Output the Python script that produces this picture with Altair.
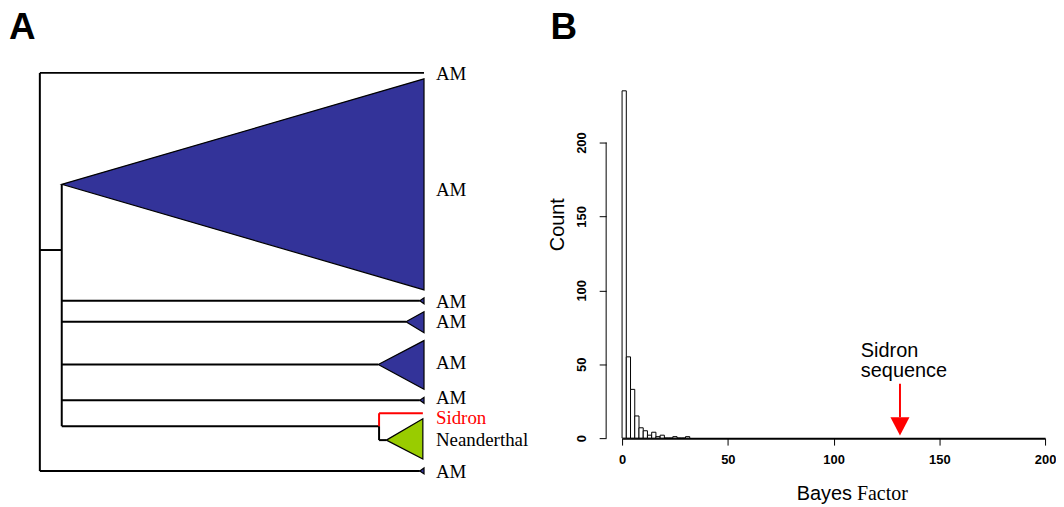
import altair as alt
import pandas as pd

# ---------------- Panel A: tree (branch-length units x, tip-position units y) ----------------
seg_x1 = [0, 0, 0, 0, 5.7, 5.7, 5.7, 5.7, 5.7, 5.7, 88.3, 88.3]
seg_y1 = [0, 0, 100, 44.5, 28, 57.25, 62.5, 73.25, 82.25, 88.75, 88.75, 92.25]
seg_x2 = [0, 100, 98.9, 5.7, 5.7, 98.9, 95.3, 88.1, 98.9, 88.3, 88.3, 90.2]
seg_y2 = [100, 0, 100, 44.5, 88.75, 57.25, 62.5, 73.25, 82.25, 88.75, 92.25, 92.25]

red_x1 = [88.3, 88.3]
red_y1 = [85.5, 85.5]
red_x2 = [88.3, 99.7]
red_y2 = [88.75, 85.5]

tri_apex_x = [5.7, 98.9, 95.3, 88.1, 98.9, 98.9, 90.2]
tri_apex_y = [28, 57.25, 62.5, 73.25, 82.25, 100, 92.25]
tri_tip_x = [100, 100, 100, 100, 100, 100, 99.7]
tri_top = [1.5, 56.5, 60, 67.25, 81.5, 99.25, 86.9]
tri_bottom = [54.5, 58, 65.25, 79.5, 83, 100.75, 97]
tri_group = ["AM", "AM", "AM", "AM", "AM", "AM", "Neanderthal"]

label_text = ["AM", "AM", "AM", "AM", "AM", "AM", "Sidron", "Neanderthal", "AM"]
label_y = [0.25, 29.5, 57.5, 62.5, 73.0, 81.8, 86.7, 92.25, 100.25]
label_color = ["black"] * 6 + ["red", "black", "black"]
label_x = 103.1

# ---------------- Panel B: histogram ----------------
bin_start = [0, 2, 4, 6, 8, 10, 12, 14, 16, 18, 20, 22, 24, 26, 28, 30]
counts = [235, 55, 33, 15, 7, 5, 2, 4, 1, 2, 0, 0, 1, 0, 0, 1]
bin_width = 2
x_ticks = [0, 50, 100, 150, 200]
y_ticks = [0, 50, 100, 150, 200]
sidron_bf = 131.4

# ---------------- build tables ----------------
seg_df = pd.DataFrame({"x1": seg_x1, "y1": seg_y1, "x2": seg_x2, "y2": seg_y2})
red_df = pd.DataFrame({"x1": red_x1, "y1": red_y1, "x2": red_x2, "y2": red_y2})
tri_rows = []
for i in range(len(tri_apex_x)):
    tri_rows.append({"id": i, "grp": tri_group[i], "x": tri_apex_x[i], "y": tri_apex_y[i], "y2": tri_apex_y[i]})
    tri_rows.append({"id": i, "grp": tri_group[i], "x": tri_tip_x[i], "y": tri_top[i], "y2": tri_bottom[i]})
tri_df = pd.DataFrame(tri_rows)
lab_df = pd.DataFrame({"t": label_text, "y": label_y, "c": label_color, "x": [label_x] * len(label_text)})

WA, HA = 542, 491
xs_tree = alt.Scale(domain=[-32 / 3.86, (WA - 32) / 3.86], nice=False, zero=False)
ys_tree = alt.Scale(domain=[-63 / 4.0, (HA - 63) / 4.0], nice=False, zero=False, reverse=True)

tri = alt.Chart(tri_df).mark_area(stroke="black", strokeWidth=1.2, interpolate="linear").encode(
    x=alt.X("x:Q", scale=xs_tree, axis=None),
    y=alt.Y("y:Q", scale=ys_tree, axis=None),
    y2="y2:Q",
    detail="id:N",
    fill=alt.Fill("grp:N", scale=alt.Scale(domain=["AM", "Neanderthal"], range=["#333399", "#99CC00"]), legend=None),
)
segs = alt.Chart(seg_df).mark_rule(color="black", strokeWidth=2).encode(
    x=alt.X("x1:Q", scale=xs_tree, axis=None), x2="x2:Q",
    y=alt.Y("y1:Q", scale=ys_tree, axis=None), y2="y2:Q",
)
reds = alt.Chart(red_df).mark_rule(color="red", strokeWidth=2).encode(
    x=alt.X("x1:Q", scale=xs_tree, axis=None), x2="x2:Q",
    y=alt.Y("y1:Q", scale=ys_tree, axis=None), y2="y2:Q",
)
labs = alt.Chart(lab_df).mark_text(font="Liberation Serif", fontSize=19, align="left", baseline="middle").encode(
    x=alt.X("x:Q", scale=xs_tree, axis=None),
    y=alt.Y("y:Q", scale=ys_tree, axis=None),
    text="t:N",
    color=alt.Color("c:N", scale=None),
)
panel_a = alt.Chart(pd.DataFrame({"t": ["A"]})).mark_text(
    font="Liberation Sans", fontSize=37, fontWeight="bold", align="left", baseline="top"
).encode(x=alt.value(1), y=alt.value(0), text="t:N")

left = alt.layer(tri, segs, reds, labs, panel_a).properties(width=WA, height=HA)

# histogram
WB, HB = 425, 430
ymax = HB / 1.485
hist_df = pd.DataFrame({"lo": bin_start, "hi": [b + bin_width for b in bin_start], "n": counts})
xs_h = alt.Scale(domain=[0, 200], nice=False, zero=False)
ys_h = alt.Scale(domain=[0, ymax], nice=False)

bars = alt.Chart(hist_df).mark_bar(fill="white", stroke="black", strokeWidth=1).encode(
    x=alt.X("lo:Q", scale=xs_h, axis=alt.Axis(
        values=x_ticks, title=None, grid=False, domainColor="black", domainWidth=2,
        tickColor="black", tickSize=7, tickWidth=1, labelFont="Liberation Sans", labelFontWeight="bold",
        labelFontSize=13, labelColor="black", labelPadding=8, labelFlush=False, labelAngle=0)),
    x2="hi:Q",
    y=alt.Y("n:Q", scale=ys_h, axis=alt.Axis(
        values=y_ticks, title="Count", grid=False, domain=False, offset=16,
        tickColor="black", tickSize=7, tickWidth=1, labelFont="Liberation Sans", labelFontWeight="bold",
        labelFontSize=13, labelColor="black", labelAngle=270, labelAlign="center", labelBaseline="bottom",
        labelPadding=11, titleFont="Liberation Sans", titleFontSize=20, titleFontWeight="normal",
        titleColor="black", titlePadding=8)),
    y2=alt.datum(0),
)
yaxis_line = alt.Chart(pd.DataFrame({"lo": [y_ticks[0]], "hi": [y_ticks[-1]]})).mark_rule(
    color="black", strokeWidth=1).encode(x=alt.value(-16), y=alt.Y("lo:Q", scale=ys_h), y2="hi:Q")

shaft = alt.Chart(pd.DataFrame({"x": [sidron_bf], "y": [36.8], "y2": [14.1]})).mark_rule(
    color="red", strokeWidth=2).encode(x=alt.X("x:Q", scale=xs_h), y=alt.Y("y:Q", scale=ys_h), y2="y2:Q")
head = alt.Chart(pd.DataFrame({
    "x": [sidron_bf - 4.5, sidron_bf, sidron_bf + 4.5],
    "y": [14.1, 14.1, 14.1], "y2": [14.1, 1.8, 14.1]})).mark_area(color="red").encode(
    x=alt.X("x:Q", scale=xs_h), y=alt.Y("y:Q", scale=ys_h), y2="y2:Q")
ann = alt.Chart(pd.DataFrame({"t": ["Sidron", "sequence"], "x": [112.9, 112.9], "y": [59.0, 45.6]})).mark_text(
    font="Liberation Sans", fontSize=20, align="left", baseline="middle", color="black").encode(
    x=alt.X("x:Q", scale=xs_h), y=alt.Y("y:Q", scale=ys_h), text="t:N")
xt1 = alt.Chart(pd.DataFrame({"t": ["Bayes"]})).mark_text(
    font="Liberation Sans", fontSize=20, align="right", baseline="alphabetic").encode(
    x=alt.value(231), y=alt.value(492), text="t:N")
xt2 = alt.Chart(pd.DataFrame({"t": ["Factor"]})).mark_text(
    font="Liberation Serif", fontSize=20, align="left", baseline="alphabetic").encode(
    x=alt.value(236), y=alt.value(492), text="t:N")
panel_b = alt.Chart(pd.DataFrame({"t": ["B"]})).mark_text(
    font="Liberation Sans", fontSize=37, fontWeight="bold", align="left", baseline="top"
).encode(x=alt.value(-72), y=alt.value(0), text="t:N")

right = alt.layer(bars, yaxis_line, shaft, head, ann, xt1, xt2, panel_b).properties(width=WB, height=HB)

chart = alt.hconcat(left, right, spacing=0).properties(padding=0).configure_view(stroke=None)
chart.save("out.html", embed_options={"renderer": "svg", "actions": False})
